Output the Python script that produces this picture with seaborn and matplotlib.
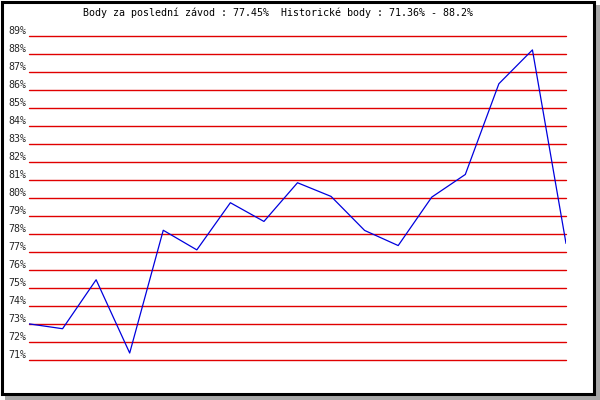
from matplotlib import pyplot as plt
from matplotlib.patches import Rectangle
import numpy as np
import pandas as pd
import seaborn as sns

# score per race (percent)
race = list(range(17))
score = [72.98, 72.71, 75.43, 71.36, 78.18, 77.09, 79.71, 78.67, 80.82,
         80.06, 78.17, 77.33, 80.02, 81.28, 86.32, 88.2, 77.45]
y_ticks = list(range(71, 90))
title = "Body za poslední závod : 77.45%  Historické body : 71.36% - 88.2%"

sns.set_style('white')
plt.rcParams['font.family'] = ['DejaVu Sans Mono']

W, H = 600, 400
fig = plt.figure(figsize=(6, 4), dpi=100)

# frame with drop shadow
fig.patches.append(Rectangle((5 / W, 0), 595 / W, 395 / H, transform=fig.transFigure,
                             facecolor='#a8a8a8', edgecolor='none', zorder=0))
fig.patches.append(Rectangle((1.5 / W, 6.5 / H), 592 / W, 392 / H, transform=fig.transFigure,
                             facecolor='white', edgecolor='black', linewidth=2.2, zorder=1))

# half-pixel offset so the 1px grid lines land on pixel rows
ax = fig.add_axes([29 / W, (41 - 0.5) / H, (566 - 29) / W, (359 - 35) / H])
ax.set_zorder(2)
ax.patch.set_alpha(0)

df = pd.DataFrame({'race': race, 'score': score})
sns.lineplot(data=df, x='race', y='score', color='#0000dd', linewidth=0.9, ax=ax, zorder=3)

ax.set_xlim(0, 16)
ax.set_ylim(71, 89)
ax.set_xticks([])
ax.set_yticks(y_ticks)
ax.set_yticklabels([f'{t}%' for t in y_ticks], fontsize=7.2)
for lab in ax.get_yticklabels():
    lab.set_va('bottom')
ax.tick_params(axis='y', length=0, pad=2.2)
ax.yaxis.grid(True, color='#e00000', linewidth=1.0)
for gl in ax.get_ygridlines():
    gl.set_clip_on(False)
ax.set_axisbelow(True)
ax.set_xlabel('')
ax.set_ylabel('')
for s in ax.spines.values():
    s.set_visible(False)

fig.text(83 / W, 1 - 13 / H, title, ha='left', va='center', fontsize=7.2, color='black',
         zorder=3)

fig.savefig('out.png', dpi=100)
